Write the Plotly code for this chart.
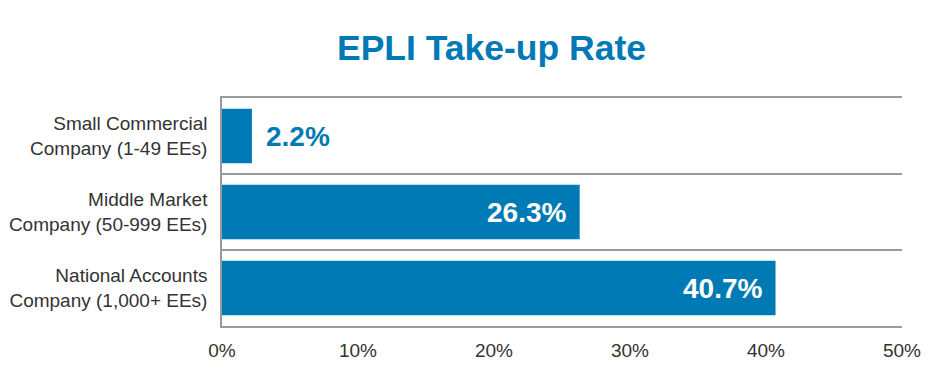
import plotly.graph_objects as go

categories = ["Small Commercial<br>Company (1-49 EEs)",
              "Middle Market<br>Company (50-999 EEs)",
              "National Accounts<br>Company (1,000+ EEs)"]
values = [2.2, 26.3, 40.7]
value_labels = ["2.2%", "26.3%", "40.7%"]
x_ticks = [0, 10, 20, 30, 40, 50]
x_tick_labels = ["0%", "10%", "20%", "30%", "40%", "50%"]

BLUE = "#007AB5"
FONT = "Liberation Sans, Arial, Helvetica, sans-serif"

fig = go.Figure(go.Bar(
    x=values, y=categories, orientation="h",
    marker=dict(color=BLUE, line=dict(width=0)),
    hoverinfo="skip",
))

annotations = []
for cat, v, lab in zip(categories, values, value_labels):
    inside = v >= 10
    annotations.append(dict(
        x=v, y=cat, xref="x", yref="y", text=lab, showarrow=False,
        xanchor="right" if inside else "left",
        xshift=-12 if inside else 12,
        font=dict(family=FONT, size=28, color="white" if inside else BLUE, weight="bold"),
    ))

fig.update_layout(
    width=933, height=389,
    margin=dict(l=214, r=39, t=90, b=71, autoexpand=False),
    paper_bgcolor="white", plot_bgcolor="white",
    bargap=0.28,
    showlegend=False,
    title=dict(text="<b>EPLI Take-up Rate</b>", x=(491.5 - 8) / 933, xanchor="center",
               y=1 - 40 / 389, yanchor="middle",
               font=dict(family=FONT, size=35.5, color=BLUE)),
    annotations=annotations,
    xaxis=dict(range=[0, 50], tickvals=x_ticks, ticktext=x_tick_labels,
               showgrid=False, zeroline=False, showline=True, mirror=True,
               linecolor="#9a9a9a", linewidth=1.5, ticks="", ticklabelstandoff=6,
               automargin=False,
               tickfont=dict(family=FONT, size=19, color="#333333")),
    yaxis=dict(autorange="reversed", type="category", tickson="boundaries",
               showgrid=True, gridcolor="#9a9a9a", gridwidth=1.5,
               showline=True, linecolor="#9a9a9a", linewidth=1.5, ticks="",
               ticklabelstandoff=9, automargin=False,
               tickfont=dict(family=FONT, size=19, color="#333333")),
)

fig.write_html("out.html")
